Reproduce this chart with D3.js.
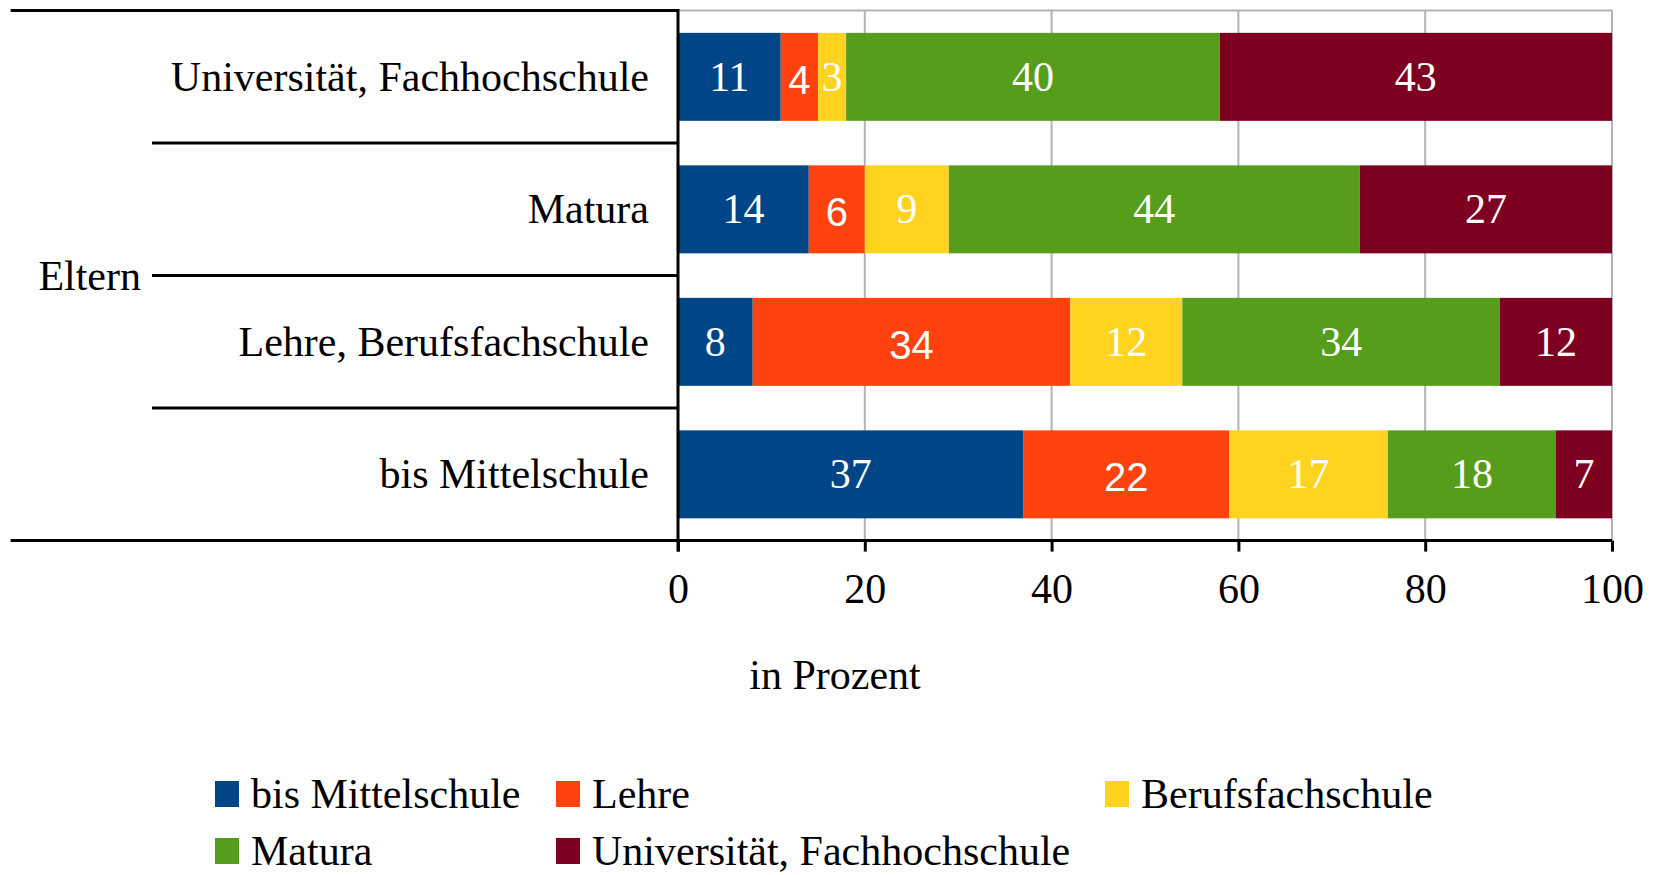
<!DOCTYPE html>
<html>
<head>
<meta charset="utf-8">
<script src="https://cdn.jsdelivr.net/npm/d3@7"></script>
<style>
  body { margin: 0; background: #fff; }
  svg { display: block; }
</style>
</head>
<body>
<div id="chart"></div>
<script>
// Kategorien (von oben nach unten) und Serien
const categories = ["Universität, Fachhochschule", "Matura", "Lehre, Berufsfachschule", "bis Mittelschule"];
const series = ["bis Mittelschule", "Lehre", "Berufsfachschule", "Matura", "Universität, Fachhochschule"];
const colors = ["#004586", "#ff420e", "#ffd320", "#579d1c", "#7e0021"];

// Werte pro Serie (Reihenfolge wie categories)
const bisMittelschule = [11, 14, 8, 37];
const lehre = [4, 6, 34, 22];
const berufsfachschule = [3, 9, 12, 17];
const matura = [40, 44, 34, 18];
const universitaet = [43, 27, 12, 7];
const xTicks = [0, 20, 40, 60, 80, 100];

const width = 1662, height = 875;
const plotLeft = 678, plotRight = 1612, plotTop = 10.6, plotBottom = 540.6;
const serif = "'Liberation Serif', 'Times New Roman', serif";
const fs = 42;

const svg = d3.select("#chart").append("svg")
  .attr("width", width)
  .attr("height", height);

const x = d3.scaleLinear().domain([0, 100]).range([plotLeft, plotRight]);
const y = d3.scaleBand().domain(categories).range([plotTop, plotBottom]).paddingInner(0.336).paddingOuter(0.168);
const color = d3.scaleOrdinal().domain(series).range(colors);

const rows = categories.map((c, i) => ({
  cat: c,
  "bis Mittelschule": bisMittelschule[i],
  "Lehre": lehre[i],
  "Berufsfachschule": berufsfachschule[i],
  "Matura": matura[i],
  "Universität, Fachhochschule": universitaet[i]
}));
const stacked = d3.stack().keys(series)(rows);

// Gitterlinien
svg.append("g").selectAll("line.grid")
  .data(xTicks.slice(1))
  .enter().append("line")
  .attr("x1", d => x(d)).attr("x2", d => x(d))
  .attr("y1", plotTop).attr("y2", plotBottom)
  .attr("stroke", "#b3b3b3").attr("stroke-width", 2);
svg.append("line")
  .attr("x1", plotLeft).attr("x2", plotRight).attr("y1", plotTop).attr("y2", plotTop)
  .attr("stroke", "#b3b3b3").attr("stroke-width", 2);

// Balken (auf 100 % begrenzt)
svg.append("clipPath").attr("id", "plot")
  .append("rect").attr("x", plotLeft).attr("y", plotTop).attr("width", plotRight - plotLeft).attr("height", plotBottom - plotTop);

const layers = svg.append("g").attr("clip-path", "url(#plot)")
  .selectAll("g.layer").data(stacked).enter().append("g")
  .attr("fill", d => color(d.key));
layers.selectAll("rect")
  .data(d => d)
  .enter().append("rect")
  .attr("x", d => x(d[0]))
  .attr("width", d => Math.max(0, x(Math.min(d[1], 100)) - x(d[0])))
  .attr("y", d => y(d.data.cat))
  .attr("height", y.bandwidth());

// Werte-Beschriftung
const labelG = svg.append("g");
stacked.forEach(layer => {
  const sans = layer.key === "Lehre";
  labelG.selectAll(null)
    .data(layer)
    .enter().append("text")
    .attr("x", d => x((d[0] + Math.min(d[1], 100)) / 2))
    .attr("y", d => y(d.data.cat) + y.bandwidth() / 2 + (sans ? 3 : 0))
    .attr("text-anchor", "middle")
    .attr("dominant-baseline", "central")
    .attr("fill", "#fff")
    .attr("font-family", sans ? "'Liberation Sans', Arial, sans-serif" : serif)
    .attr("font-size", sans ? 40 : fs)
    .text(d => d.data[layer.key]);
});

// Linke Struktur (Kategorien-Tabelle)
const bounds = [plotTop].concat(categories.map(c => y(c) - y.step() * y.paddingInner() / 2).slice(1), [plotBottom]);
svg.append("g").selectAll("line.sep")
  .data(bounds)
  .enter().append("line")
  .attr("x1", (d, i) => (i === 0 || i === bounds.length - 1) ? 10.6 : 152)
  .attr("x2", plotLeft)
  .attr("y1", d => d).attr("y2", d => d)
  .attr("stroke", "#000").attr("stroke-width", 3);

svg.append("g").selectAll("text.cat")
  .data(categories)
  .enter().append("text")
  .attr("x", 649)
  .attr("y", d => y(d) + y.bandwidth() / 2)
  .attr("text-anchor", "end")
  .attr("dominant-baseline", "central")
  .attr("font-family", serif)
  .attr("font-size", fs)
  .text(d => d);

svg.append("text")
  .attr("x", 141).attr("y", (plotTop + plotBottom) / 2)
  .attr("text-anchor", "end")
  .attr("dominant-baseline", "central")
  .attr("font-family", serif)
  .attr("font-size", fs)
  .text("Eltern");

// Achsen
svg.append("line")
  .attr("x1", plotLeft).attr("x2", plotLeft).attr("y1", plotTop - 1.5).attr("y2", plotBottom + 11)
  .attr("stroke", "#000").attr("stroke-width", 3);

const xAxis = svg.append("g")
  .attr("transform", `translate(0,${plotBottom})`)
  .call(d3.axisBottom(x).tickValues(xTicks).tickSize(11).tickPadding(22));
xAxis.select(".domain").attr("stroke", "#000").attr("stroke-width", 3).attr("d", `M${plotLeft},0H${plotRight}`);
xAxis.selectAll(".tick line").attr("stroke", "#000").attr("stroke-width", 3);
xAxis.selectAll(".tick text")
  .attr("fill", "#000")
  .attr("font-family", serif)
  .attr("font-size", fs);

svg.append("text")
  .attr("x", 835).attr("y", 675)
  .attr("text-anchor", "middle")
  .attr("dominant-baseline", "central")
  .attr("font-family", serif)
  .attr("font-size", fs)
  .text("in Prozent");

// Legende
const legendPos = [[215, 794], [556, 794], [1105, 794], [215, 851], [556, 851]];
const legend = svg.append("g").selectAll("g.leg")
  .data(series)
  .enter().append("g")
  .attr("transform", (d, i) => `translate(${legendPos[i][0]},${legendPos[i][1]})`);
legend.append("rect")
  .attr("x", 0).attr("y", -13).attr("width", 24).attr("height", 26)
  .attr("fill", d => color(d));
legend.append("text")
  .attr("x", 36).attr("y", 0)
  .attr("dominant-baseline", "central")
  .attr("font-family", serif)
  .attr("font-size", fs)
  .text(d => d);
</script>
</body>
</html>
